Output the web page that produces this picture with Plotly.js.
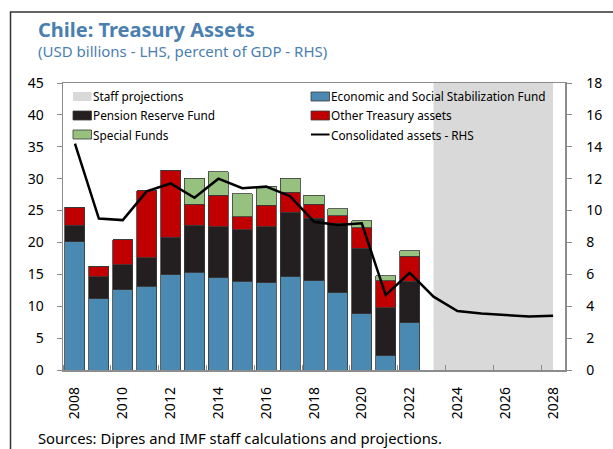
<!DOCTYPE html>
<html>
<head>
<meta charset="utf-8">
<script src="https://cdn.plot.ly/plotly-3.0.1.min.js"></script>
<style>html,body{margin:0;padding:0;background:#fff;}#chart{width:613px;height:449px;}</style>
</head>
<body>
<div id="chart"></div>
<script>
// ---- data ----
var years = [2008,2009,2010,2011,2012,2013,2014,2015,2016,2017,2018,2019,2020,2021,2022,2023,2024,2025,2026,2027,2028];
var barYears = [2008,2009,2010,2011,2012,2013,2014,2015,2016,2017,2018,2019,2020,2021,2022];
var essf    = [20.1,11.2,12.6,13.1,14.9,15.3,14.5,13.9,13.7,14.6,14.0,12.1,8.8,2.2,7.4];
var pension = [2.6,3.4,3.9,4.5,5.9,7.4,8.0,8.1,8.8,10.1,9.8,10.9,10.3,7.6,6.5];
var other   = [2.8,1.7,3.9,10.5,10.5,3.3,4.9,2.0,3.3,3.2,2.2,1.2,3.2,4.2,3.9];
var special = [0,0,0,0,0,4.1,3.7,3.6,3.0,2.2,1.4,1.1,1.1,0.8,0.9];
var consolidated = [14.2,9.5,9.4,11.2,11.7,10.8,12.0,11.4,11.5,10.9,9.3,9.1,9.2,4.7,6.1,4.6,3.7,3.55,3.45,3.35,3.4];
var projYears = [2023,2028];
var xTickVals = [2008,2010,2012,2014,2016,2018,2020,2022,2024,2026,2028];
var xTickText = ["2008","2010","2012","2014","2016","2018","2020","2022","2024","2026","2028"];
var seriesNames = ["Staff projections","Economic and Social Stabilization Fund","Pension Reserve Fund","Other Treasury assets","Special Funds","Consolidated assets - RHS"];
var seriesColors = ["#d9d9d9","#4a89b1","#231f20","#c00000","#97c17f","#000000"];

var FONT = "Noto Sans, Open Sans, sans-serif";
var barLine = {color:"#3a3a3a", width:0.8};

function barTrace(vals, i){
  return {type:"bar", x:barYears, y:vals, name:seriesNames[i], width:0.84,
    marker:{color:seriesColors[i], line:barLine}, showlegend:false, hoverinfo:"skip"};
}
var traces = [
  barTrace(essf,1), barTrace(pension,2), barTrace(other,3), barTrace(special,4),
  {type:"scatter", mode:"lines", x:years, y:consolidated, yaxis:"y2", name:seriesNames[5],
   line:{color:seriesColors[5], width:2.5}, showlegend:false, hoverinfo:"skip"}
];

// pixel -> paper helpers (plot area: x 63..565, y 83..370)
var L=63, R=565, T=83, B=370;
function px(x){return (x-L)/(R-L);}
function py(y){return (B-y)/(B-T);}

var shapes = [
  {type:"rect", xref:"x", yref:"paper", x0:projYears[0], x1:projYears[1], y0:0, y1:1,
   fillcolor:"#d9d9d9", line:{width:0}, layer:"below"},
  // outer frame (left + top)
  {type:"path", xref:"paper", yref:"paper",
   path:"M"+px(10.5)+","+py(470)+" L"+px(10.5)+","+py(12)+" L"+px(640)+","+py(12),
   line:{color:"#333333", width:1.5}}
];
var annotations = [
  {xref:"paper", yref:"paper", x:px(36), y:py(30), xanchor:"left", yanchor:"middle", showarrow:false,
   text:"<b>Chile: Treasury Assets</b>", font:{family:FONT, size:20, color:"#4a7fb0"}},
  {xref:"paper", yref:"paper", x:px(36), y:py(51.5), xanchor:"left", yanchor:"middle", showarrow:false,
   text:"(USD billions - LHS, percent of GDP - RHS)", font:{family:FONT, size:15, color:"#4a7fb0"}},
  {xref:"paper", yref:"paper", x:px(36), y:py(438), xanchor:"left", yanchor:"middle", showarrow:false,
   text:"Sources: Dipres and IMF staff calculations and projections.", font:{family:FONT, size:14.8, color:"#000"}}
];

// custom legend (2 columns x 3 rows)
var legRows = [96.5, 115.5, 134.5];
var legCols = [73, 311];
for (var k=0; k<seriesNames.length; k++){
  var row = Math.floor(k/2), col = k%2;
  var xs = legCols[col], yc = legRows[row];
  if (k===5){
    shapes.push({type:"line", xref:"paper", yref:"paper", x0:px(xs), x1:px(xs+18.5), y0:py(yc), y1:py(yc),
      line:{color:seriesColors[k], width:2}});
  } else {
    shapes.push({type:"rect", xref:"paper", yref:"paper", x0:px(xs), x1:px(xs+18.5), y0:py(yc+4.5), y1:py(yc-4.5),
      fillcolor:seriesColors[k], line:{color: k===0 ? seriesColors[0] : "#3a3a3a", width: k===0?0:0.8}});
  }
  annotations.push({xref:"paper", yref:"paper", x:px(xs+18), y:py(yc), xanchor:"left", yanchor:"middle",
    showarrow:false, text:seriesNames[k], font:{family:FONT, size:11.8, color:"#000"}});
}

var axisCol = "#8c8c8c";
var layout = {
  width:613, height:449,
  margin:{l:L, r:613-R, t:T, b:449-B, pad:0},
  paper_bgcolor:"#fff", plot_bgcolor:"#fff",
  barmode:"stack", bargap:0.16,
  font:{family:FONT, size:14, color:"#000"},
  showlegend:false,
  xaxis:{range:[2007.5,2028.5], tickmode:"array", tickvals:xTickVals, ticktext:xTickText,
    tickangle:-90, ticks:"", showgrid:false, zeroline:false,
    showline:true, linecolor:axisCol, linewidth:1.5, mirror:true,
    tickfont:{family:FONT, size:14}, ticklabelstandoff:10,
    minor:{tick0:2009.5, dtick:2, ticks:"inside", ticklen:5, tickcolor:axisCol, tickwidth:1, showgrid:false}},
  yaxis:{range:[0,45], dtick:5, ticks:"outside", ticklen:5, tickcolor:axisCol, tickwidth:1,
    showgrid:false, zeroline:false, showline:true, linecolor:axisCol, linewidth:1.5,
    tickfont:{family:FONT, size:14}, ticklabelstandoff:10},
  yaxis2:{range:[0,18], dtick:2, overlaying:"y", side:"right", ticks:"outside", ticklen:5,
    tickcolor:axisCol, tickwidth:1, showgrid:false, zeroline:false, showline:true,
    linecolor:axisCol, linewidth:1.5, tickfont:{family:FONT, size:14}, ticklabelstandoff:12},
  shapes:shapes, annotations:annotations
};
Plotly.newPlot("chart", traces, layout, {displayModeBar:false, staticPlot:true});
</script>
</body>
</html>
